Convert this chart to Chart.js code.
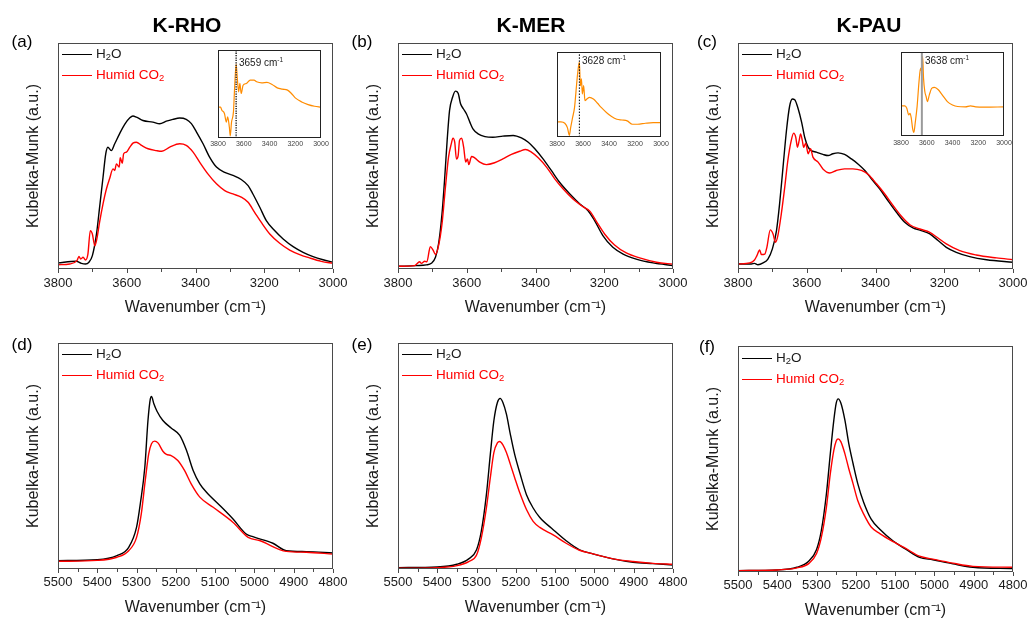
<!DOCTYPE html>
<html>
<head>
<meta charset="utf-8">
<script src="https://cdn.jsdelivr.net/npm/chart.js@4.4.0/dist/chart.umd.min.js"></script>
<style>
  body { margin: 0; background: #fff; width: 1027px; height: 622px; position: relative; overflow: hidden;
         font-family: Arial, "Liberation Sans", Helvetica, sans-serif; color: #1a1a1a; }
  canvas { position: absolute; }
  .txt { position: absolute; white-space: nowrap; transform: translate(-50%, -50%); }
  .leg { position: absolute; font-size: 13.5px; line-height: 21px; white-space: nowrap; }
  .leg .sw { display: inline-block; width: 30px; height: 0; border-top: 1.4px solid; vertical-align: middle; margin-right: 4px; }
  .note { position: absolute; font-size: 10px; white-space: nowrap; transform: translateY(-50%); }
  sub { font-size: 70%; vertical-align: -0.25em; line-height: 0; }
  sup { font-size: 65%; vertical-align: 0.55em; line-height: 0; }
</style>
</head>
<body>
<script>
// ---- data (y = fraction of plot height) ----
// K-RHO, OH region
var rhoOhH2OWn = [3800,3747,3732,3720,3710,3700,3688,3679,3669,3661,3655,3645,3635,3621,3606,3591,3582,3572,3553,3524,3504,3485,3466,3446,3427,3412,3397,3378,3359,3339,3315,3291,3267,3247,3233,3213,3194,3170,3145,3116,3087,3058,3029,3000];
var rhoOhH2O   = [.027,.034,.025,.022,.030,.059,.155,.273,.406,.510,.539,.524,.554,.598,.640,.669,.677,.672,.657,.650,.643,.654,.662,.668,.662,.643,.606,.554,.495,.451,.428,.414,.396,.369,.332,.273,.214,.170,.133,.099,.074,.055,.041,.030];
var rhoOhCO2Wn = [3800,3766,3745,3739,3734,3727,3720,3713,3706,3700,3693,3687,3679,3669,3659,3650,3640,3635,3630,3622,3619,3613,3609,3601,3591,3582,3572,3557,3538,3514,3498,3475,3446,3427,3407,3388,3364,3339,3315,3291,3267,3247,3228,3209,3184,3155,3126,3097,3068,3034,3000];
var rhoOhCO2   = [.019,.022,.037,.055,.044,.052,.040,.066,.170,.155,.103,.133,.207,.288,.355,.399,.443,.436,.465,.451,.492,.468,.510,.517,.539,.557,.561,.547,.532,.524,.521,.539,.554,.547,.517,.473,.421,.377,.347,.332,.318,.295,.251,.207,.155,.114,.084,.064,.049,.034,.025];

// K-MER, OH region
var merOhH2OWn = [3800,3747,3718,3703,3691,3682,3672,3664,3657,3650,3641,3633,3625,3618,3610,3601,3591,3582,3567,3547,3524,3495,3465,3441,3421,3402,3378,3354,3330,3300,3271,3247,3228,3204,3175,3145,3107,3058,3000];
var merOhH2O   = [.012,.015,.018,.025,.052,.111,.244,.406,.569,.702,.761,.787,.778,.731,.709,.687,.650,.620,.598,.586,.583,.588,.591,.580,.561,.532,.487,.436,.384,.332,.288,.258,.214,.148,.096,.066,.044,.027,.015];
var merOhCO2Wn = [3800,3752,3737,3732,3722,3716,3706,3698,3691,3682,3672,3662,3653,3645,3640,3635,3630,3625,3621,3615,3609,3603,3598,3594,3586,3577,3562,3543,3519,3495,3470,3446,3429,3412,3392,3368,3344,3320,3291,3262,3242,3223,3199,3170,3136,3097,3048,3000];
var merOhCO2   = [.012,.015,.032,.025,.034,.032,.099,.084,.064,.103,.199,.362,.495,.554,.579,.561,.487,.502,.569,.579,.539,.473,.487,.462,.498,.492,.473,.462,.470,.487,.507,.521,.529,.517,.492,.451,.399,.355,.310,.276,.256,.211,.155,.106,.071,.049,.030,.021];

// K-PAU, OH region
var pauOhH2OWn = [3800,3761,3752,3742,3727,3713,3700,3688,3679,3669,3659,3650,3642,3635,3625,3615,3606,3596,3587,3572,3553,3538,3524,3509,3490,3470,3451,3431,3412,3388,3364,3339,3315,3291,3267,3242,3218,3194,3165,3126,3077,3000];
var pauOhH2O   = [.022,.022,.025,.019,.027,.044,.089,.170,.288,.451,.613,.719,.752,.749,.709,.650,.583,.539,.524,.517,.507,.502,.510,.514,.507,.487,.465,.436,.399,.355,.303,.251,.207,.182,.170,.155,.126,.096,.074,.055,.041,.030];
var pauOhCO2Wn = [3800,3766,3752,3745,3737,3732,3722,3716,3706,3698,3691,3684,3674,3664,3655,3645,3638,3632,3627,3622,3618,3613,3609,3603,3596,3589,3582,3567,3553,3533,3514,3490,3466,3441,3421,3397,3373,3349,3324,3300,3271,3242,3218,3194,3155,3107,3048,3000];
var pauOhCO2   = [.022,.027,.040,.059,.084,.064,.066,.096,.173,.155,.118,.148,.244,.362,.480,.569,.601,.583,.539,.569,.598,.569,.539,.557,.510,.532,.495,.473,.443,.425,.436,.443,.443,.436,.418,.377,.332,.281,.232,.196,.177,.162,.137,.111,.081,.062,.049,.041];

// combination region (d-f)
var rhoNirH2OWn = [5500,5400,5350,5320,5300,5290,5279,5271,5265,5262,5256,5248,5233,5212,5190,5173,5156,5139,5122,5088,5055,5021,5004,4953,4919,4868,4800];
var rhoNirH2O   = [.037,.041,.059,.096,.185,.295,.450,.657,.753,.763,.731,.698,.657,.624,.591,.525,.436,.377,.340,.281,.222,.155,.143,.114,.081,.077,.071];
var rhoNirCO2Wn = [5500,5400,5350,5320,5300,5288,5278,5269,5262,5254,5245,5233,5224,5212,5195,5178,5161,5139,5105,5055,5016,4987,4919,4868,4800];
var rhoNirCO2   = [.034,.038,.052,.081,.140,.244,.391,.510,.554,.566,.557,.521,.507,.502,.480,.436,.377,.318,.273,.207,.140,.126,.078,.074,.066];

var merNirH2OWn = [5500,5400,5350,5320,5300,5288,5275,5265,5256,5247,5240,5233,5224,5214,5203,5190,5173,5156,5139,5105,5072,5038,5004,4953,4902,4851,4800];
var merNirH2O   = [.006,.009,.021,.045,.085,.166,.329,.507,.656,.737,.755,.737,.685,.596,.507,.426,.329,.270,.228,.174,.125,.085,.067,.045,.030,.024,.018];
var merNirCO2Wn = [5500,5400,5350,5320,5300,5288,5275,5265,5256,5247,5241,5233,5224,5214,5203,5190,5173,5156,5139,5105,5072,5038,5004,4953,4902,4851,4800];
var merNirCO2   = [.003,.006,.015,.033,.062,.137,.270,.404,.515,.558,.564,.549,.515,.463,.404,.337,.263,.211,.184,.151,.114,.083,.067,.045,.033,.025,.021];

var pauNirH2OWn = [5500,5400,5350,5320,5300,5288,5275,5265,5256,5250,5245,5238,5228,5218,5207,5195,5180,5161,5139,5105,5072,5038,5004,4953,4902,4800];
var pauNirH2O   = [.006,.009,.021,.048,.100,.182,.345,.524,.673,.747,.766,.747,.673,.568,.479,.390,.308,.234,.189,.137,.100,.065,.054,.036,.021,.015];
var pauNirCO2Wn = [5500,5400,5350,5320,5300,5288,5275,5265,5256,5250,5245,5238,5228,5218,5207,5195,5180,5161,5139,5105,5072,5038,5004,4953,4902,4800];
var pauNirCO2   = [.006,.009,.018,.037,.082,.152,.286,.435,.539,.580,.589,.576,.524,.457,.390,.315,.256,.199,.170,.134,.103,.070,.057,.039,.025,.021];

// difference spectra (insets)
var rhoDiffWn = [3800,3780,3770,3750,3735,3725,3712,3705,3695,3680,3670,3659,3650,3640,3630,3620,3605,3580,3550,3520,3500,3460,3420,3380,3340,3300,3260,3230,3200,3150,3100,3050,3000];
var rhoDiff   = [.35,.35,.316,.278,.18,.24,.125,.023,.18,.297,.60,.84,.677,.525,.62,.506,.60,.62,.658,.658,.639,.627,.631,.608,.57,.555,.544,.506,.456,.41,.38,.361,.35];
var merDiffWn = [3800,3770,3740,3720,3705,3695,3680,3665,3650,3640,3628,3620,3612,3605,3595,3585,3570,3550,3520,3490,3460,3420,3380,3340,3300,3260,3220,3180,3120,3060,3000];
var merDiff   = [.178,.178,.162,.11,.02,.11,.23,.348,.605,.763,.88,.605,.684,.506,.605,.427,.447,.466,.447,.40,.348,.289,.241,.209,.20,.19,.15,.15,.162,.17,.17];
var pauDiffWn = [3800,3770,3755,3740,3730,3720,3710,3700,3690,3675,3660,3648,3640,3632,3625,3615,3605,3595,3580,3560,3540,3510,3480,3440,3400,3360,3300,3260,3220,3150,3000];
var pauDiff   = [.359,.359,.331,.251,.271,.211,.092,.044,.151,.35,.649,.809,.769,.948,.689,.53,.47,.41,.49,.57,.578,.55,.49,.41,.37,.351,.347,.359,.347,.343,.347];

var markWn = [3659, 3628, 3638];
var colTitles = ["K-RHO", "K-MER", "K-PAU"];
var panelTags = ["(a)", "(b)", "(c)", "(d)", "(e)", "(f)"];
var ohTicks = [3000, 3800, 200, 100];
var nirTicks = [4800, 5500, 100, 50];

var FONT = 'Arial, "Liberation Sans", Helvetica, sans-serif';
Chart.defaults.font.family = FONT;

// box + outward bottom ticks
var framePlugin = {
  id: 'frame',
  afterDatasetsDraw: function (chart, args, o) {
    var ctx = chart.ctx, a = chart.chartArea, x = chart.scales.x;
    ctx.save();
    ctx.strokeStyle = o.color;
    ctx.lineWidth = o.width;
    ctx.strokeRect(a.left + 0.5, a.top + 0.5, a.right - a.left - 1, a.bottom - a.top - 1);
    if (o.minor) {
      for (var v = x.min; v <= x.max; v += o.minor) {
        var px = Math.round(x.getPixelForValue(v)) + 0.5;
        var len = (v - x.min) % o.major === 0 ? o.majorLen : o.minorLen;
        ctx.beginPath();
        ctx.moveTo(px, a.bottom);
        ctx.lineTo(px, a.bottom + len);
        ctx.stroke();
      }
    }
    ctx.restore();
  }
};

function pts(wn, val) {
  return wn.map(function (w, i) { return { x: w, y: val[i] }; });
}

function makeCanvas(left, top, w, h) {
  var c = document.createElement('canvas');
  c.width = w; c.height = h;
  c.style.left = left + 'px'; c.style.top = top + 'px';
  c.style.width = w + 'px'; c.style.height = h + 'px';
  document.body.appendChild(c);
  return c;
}

function addText(cls, html, x, y, style) {
  var d = document.createElement('div');
  d.className = cls;
  d.innerHTML = html;
  d.style.left = x + 'px'; d.style.top = y + 'px';
  if (style) d.style.cssText += style;
  document.body.appendChild(d);
}

// fixed axis size, no label overhang padding
function fixX(height) {
  return function (s) { s.height = height; s.paddingLeft = 0; s.paddingRight = 0; };
}

function mainChart(left, top, w, h, area, tk, tickPad, h2oWn, h2o, co2Wn, co2) {
  var cv = makeCanvas(left, top, w, h);
  return new Chart(cv, {
    type: 'line',
    data: {
      datasets: [
        { data: pts(co2Wn, co2), borderColor: '#ff0000', borderWidth: 1.4 },
        { data: pts(h2oWn, h2o), borderColor: '#000000', borderWidth: 1.4 }
      ]
    },
    options: {
      responsive: false, animation: false, events: [],
      elements: { point: { radius: 0 }, line: { tension: 0.4, cubicInterpolationMode: 'monotone' } },
      layout: { autoPadding: false, padding: { left: 0, top: area.top, right: w - area.right, bottom: 0 } },
      plugins: {
        legend: { display: false }, tooltip: { enabled: false },
        frame: { color: '#4a4a4a', width: 1, major: tk[2], minor: tk[3], majorLen: 4, minorLen: 3 }
      },
      scales: {
        x: {
          type: 'linear', reverse: true, min: tk[0], max: tk[1],
          afterFit: fixX(h - area.bottom),
          grid: { display: false, drawTicks: false }, border: { display: false },
          ticks: { stepSize: tk[2], autoSkip: false, maxRotation: 0, padding: tickPad, color: '#1a1a1a',
                   font: { size: 13 }, callback: function (v) { return String(v); } },
          title: { display: true, text: 'Wavenumber (cm⁻¹)', color: '#1a1a1a',
                   font: { size: 16, lineHeight: 1 }, padding: { top: 0, bottom: h - area.bottom - 47 } }
        },
        y: {
          min: 0, max: 1,
          afterFit: function (s) { s.width = area.left; },
          grid: { display: false, drawTicks: false }, border: { display: false },
          ticks: { display: false },
          title: { display: true, text: 'Kubelka-Munk (a.u.)', color: '#1a1a1a',
                   font: { size: 16, lineHeight: 1 }, padding: { top: 26, bottom: 0 } }
        }
      }
    },
    plugins: [framePlugin]
  });
}

function insetChart(left, top, area, tickPad, wn, val, mark, markStyle) {
  var w = 124, h = 106;
  var cv = makeCanvas(left, top, w, h);
  return new Chart(cv, {
    type: 'line',
    data: {
      datasets: [
        { data: [{ x: mark, y: 0 }, { x: mark, y: 1 }], borderColor: markStyle.color,
          borderWidth: markStyle.width, borderDash: markStyle.dash, tension: 0 },
        { data: pts(wn, val), borderColor: '#ff8c00', borderWidth: 1.2 }
      ]
    },
    options: {
      responsive: false, animation: false, events: [],
      elements: { point: { radius: 0 }, line: { tension: 0.4, cubicInterpolationMode: 'monotone' } },
      layout: { autoPadding: false, padding: { left: area.left, top: area.top, right: w - area.right, bottom: 0 } },
      plugins: {
        legend: { display: false }, tooltip: { enabled: false },
        frame: { color: '#222', width: 1, minor: 0 }
      },
      scales: {
        x: {
          type: 'linear', reverse: true, min: 3000, max: 3800,
          afterFit: fixX(h - area.bottom),
          grid: { display: false, drawTicks: false }, border: { display: false },
          ticks: { stepSize: 200, autoSkip: false, maxRotation: 0, padding: tickPad, color: '#444',
                   font: { size: 7 }, callback: function (v) { return String(v); } }
        },
        y: { display: false, min: 0, max: 1 }
      }
    },
    plugins: [framePlugin]
  });
}

// ---- top row: OH stretching ----
var topArea = { left: 58, right: 333, top: 43, bottom: 269 };
mainChart(0, 0, 350, 322, topArea, ohTicks, 7, rhoOhH2OWn, rhoOhH2O, rhoOhCO2Wn, rhoOhCO2);
mainChart(340, 0, 350, 322, topArea, ohTicks, 7, merOhH2OWn, merOhH2O, merOhCO2Wn, merOhCO2);
mainChart(680, 0, 347, 322, topArea, ohTicks, 7, pauOhH2OWn, pauOhH2O, pauOhCO2Wn, pauOhCO2);

// ---- bottom row: combination band ----
var botArea = { left: 58, right: 333, top: 23, bottom: 249 };
mainChart(0, 320, 350, 302, botArea, nirTicks, 6, rhoNirH2OWn, rhoNirH2O, rhoNirCO2Wn, rhoNirCO2);
mainChart(340, 320, 350, 302, botArea, nirTicks, 6, merNirH2OWn, merNirH2O, merNirCO2Wn, merNirCO2);
mainChart(680, 323, 347, 299, botArea, nirTicks, 6, pauNirH2OWn, pauNirH2O, pauNirCO2Wn, pauNirCO2);

// ---- insets: difference spectra ----
insetChart(208, 46, { left: 10, top: 4, right: 113, bottom: 92 }, 2, rhoDiffWn, rhoDiff, markWn[0],
  { color: '#333', width: 1.6, dash: [1.2, 1.2] });
insetChart(547, 48, { left: 10, top: 4, right: 114, bottom: 89 }, 3, merDiffWn, merDiff, markWn[1],
  { color: '#000', width: 1, dash: [1.5, 1.5] });
insetChart(891, 48, { left: 10, top: 4, right: 113, bottom: 88 }, 3, pauDiffWn, pauDiff, markWn[2],
  { color: '#9a9a9a', width: 2, dash: [] });

addText('note', markWn[0] + ' cm<sup>-1</sup>', 239, 62);
addText('note', markWn[1] + ' cm<sup>-1</sup>', 582, 60);
addText('note', markWn[2] + ' cm<sup>-1</sup>', 925, 60);

// ---- titles, tags, legends ----
var colX = [187, 531, 869];
var tagX = [22, 362, 707];
for (var i = 0; i < 3; i++) {
  addText('txt', colTitles[i], colX[i], 25, 'font-weight:bold;font-size:21px;color:#000;');
  addText('txt', panelTags[i], tagX[i], 42, 'font-size:17px;color:#000;');
  addText('txt', panelTags[i + 3], tagX[i], i === 2 ? 347 : 345, 'font-size:17px;color:#000;');
}

var legLeft = [62, 402, 742];
var legTop = [[43, 43, 43], [343, 343, 347]];
for (var r = 0; r < 2; r++) {
  for (var c = 0; c < 3; c++) {
    var d = document.createElement('div');
    d.className = 'leg';
    d.style.left = legLeft[c] + 'px';
    d.style.top = legTop[r][c] + 'px';
    d.innerHTML = '<div><span class="sw" style="border-color:#000"></span>H<sub>2</sub>O</div>' +
      '<div style="color:#ff0000"><span class="sw" style="border-color:#ff0000"></span>Humid CO<sub>2</sub></div>';
    document.body.appendChild(d);
  }
}
</script>
</body>
</html>
